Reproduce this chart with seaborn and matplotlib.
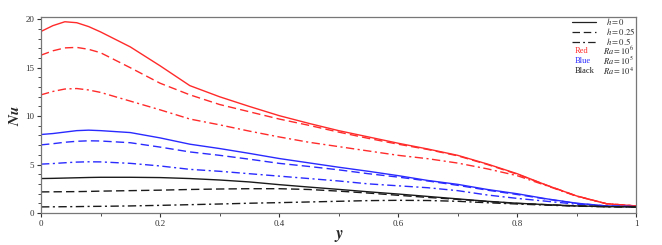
import numpy as np
import pandas as pd
import matplotlib
matplotlib.use("Agg")
import matplotlib.pyplot as plt
from matplotlib.lines import Line2D
from matplotlib.ticker import MultipleLocator
import seaborn as sns

# ---- data ----
y_pos = [0, 0.02, 0.04, 0.06, 0.08, 0.1, 0.15, 0.2, 0.25, 0.3, 0.35, 0.4,
         0.45, 0.5, 0.55, 0.6, 0.65, 0.7, 0.75, 0.8, 0.85, 0.9, 0.95, 1.0]

nu_ra6_h0 = [18.75, 19.35, 19.75, 19.65, 19.25, 18.7, 17.15, 15.2, 13.15, 12.0,
             11.0, 10.05, 9.25, 8.5, 7.85, 7.2, 6.6, 5.95, 5.05, 4.05, 2.85,
             1.75, 0.95, 0.72]
nu_ra6_h025 = [16.3, 16.75, 17.05, 17.1, 16.9, 16.55, 15.0, 13.4, 12.2, 11.2,
               10.45, 9.7, 9.05, 8.35, 7.7, 7.1, 6.55, 5.9, 5.0, 4.0, 2.85,
               1.75, 0.95, 0.72]
nu_ra6_h05 = [12.2, 12.55, 12.8, 12.85, 12.7, 12.45, 11.55, 10.65, 9.7, 9.1,
              8.45, 7.85, 7.3, 6.85, 6.4, 5.95, 5.6, 5.15, 4.55, 3.85, 2.8,
              1.72, 0.95, 0.72]
nu_ra5_h0 = [8.1, 8.2, 8.35, 8.5, 8.55, 8.5, 8.3, 7.75, 7.1, 6.65, 6.15, 5.62,
             5.17, 4.72, 4.3, 3.85, 3.35, 2.95, 2.42, 1.98, 1.45, 1.0, 0.72,
             0.65]
nu_ra5_h025 = [7.03, 7.15, 7.3, 7.4, 7.45, 7.43, 7.25, 6.8, 6.3, 5.95, 5.55,
               5.12, 4.8, 4.45, 4.05, 3.7, 3.3, 2.85, 2.35, 1.9, 1.42, 0.98,
               0.72, 0.65]
nu_ra5_h05 = [5.04, 5.1, 5.18, 5.25, 5.28, 5.27, 5.12, 4.85, 4.5, 4.3, 4.05,
              3.8, 3.55, 3.3, 3.0, 2.8, 2.6, 2.3, 1.85, 1.5, 1.2, 0.9, 0.7,
              0.62]
nu_ra4_h0 = [3.55, 3.57, 3.6, 3.63, 3.66, 3.68, 3.68, 3.65, 3.55, 3.4, 3.2,
             2.92, 2.67, 2.43, 2.18, 1.95, 1.7, 1.45, 1.2, 1.0, 0.85, 0.72,
             0.65, 0.62]
nu_ra4_h025 = [2.17, 2.18, 2.19, 2.2, 2.22, 2.25, 2.3, 2.35, 2.42, 2.47, 2.5,
               2.5, 2.42, 2.25, 2.05, 1.82, 1.6, 1.4, 1.18, 0.98, 0.85, 0.72,
               0.65, 0.62]
nu_ra4_h05 = [0.62, 0.63, 0.64, 0.65, 0.67, 0.68, 0.72, 0.78, 0.85, 0.92, 1.0,
              1.06, 1.13, 1.2, 1.27, 1.3, 1.28, 1.2, 1.05, 0.92, 0.8, 0.7,
              0.63, 0.6]

ra_labels = ["1e6", "1e5", "1e4"]
h_labels = ["0", "0.25", "0.5"]
series = {
    ("1e6", "0"): nu_ra6_h0, ("1e6", "0.25"): nu_ra6_h025, ("1e6", "0.5"): nu_ra6_h05,
    ("1e5", "0"): nu_ra5_h0, ("1e5", "0.25"): nu_ra5_h025, ("1e5", "0.5"): nu_ra5_h05,
    ("1e4", "0"): nu_ra4_h0, ("1e4", "0.25"): nu_ra4_h025, ("1e4", "0.5"): nu_ra4_h05,
}

rows = []
for (ra, h), vals in series.items():
    for yy, v in zip(y_pos, vals):
        rows.append({"y": yy, "Nu": v, "Ra": ra, "h": h})
df = pd.DataFrame(rows)

# ---- styling ----
sns.set_style("white")
plt.rcParams["font.family"] = ["Liberation Serif", "DejaVu Serif"]
plt.rcParams["mathtext.fontset"] = "stix"

palette = {"1e6": "#ff2a2a", "1e5": "#2a2aff", "1e4": "#1a1a1a"}
dashes = {"0": "", "0.25": (6, 3), "0.5": (6, 2.5, 1.5, 2.5)}

fig = plt.figure(figsize=(6.62, 2.45), dpi=100)
ax = fig.add_axes([0.062, 0.131, 0.899, 0.798])

sns.lineplot(data=df, x="y", y="Nu", hue="Ra", style="h", hue_order=ra_labels,
             style_order=h_labels, palette=palette, dashes=dashes,
             linewidth=1.0, ax=ax, legend=False, sort=False, estimator=None)

ax.set_xlim(0, 1)
ax.set_ylim(0, 20.2)
ax.xaxis.set_major_locator(MultipleLocator(0.2))
ax.xaxis.set_minor_locator(MultipleLocator(0.1))
ax.yaxis.set_major_locator(MultipleLocator(5))
ax.yaxis.set_minor_locator(MultipleLocator(1))
ax.set_xticks([0, 0.2, 0.4, 0.6, 0.8, 1.0])
ax.set_xticklabels(["0", "0.2", "0.4", "0.6", "0.8", "1"])
ax.tick_params(axis="both", which="major", direction="out", length=3,
               width=0.8, labelsize=6.5, colors="#333333", pad=2,
               bottom=True, left=True, top=False, right=False)
ax.tick_params(axis="both", which="minor", direction="out", length=2,
               width=0.6, colors="#333333", bottom=True, left=True,
               top=False, right=False)
for s in ax.spines.values():
    s.set_color("#777777")
    s.set_linewidth(0.9)

ax.set_xlabel("$\\boldsymbol{y}$", fontsize=12, labelpad=0)
ax.set_ylabel("$\\boldsymbol{Nu}$", fontsize=11, labelpad=2)

# legend: line styles
handles = []
for h in h_labels:
    if dashes[h] == "":
        handles.append(Line2D([], [], color="#222222", lw=0.9, linestyle="-"))
    else:
        handles.append(Line2D([], [], color="#222222", lw=0.9, dashes=dashes[h]))
leg = ax.legend(handles, ["$h = 0$", "$h = 0.25$", "$h = 0.5$"], loc="upper right",
                bbox_to_anchor=(1.0, 1.012), frameon=False, fontsize=6.2,
                handlelength=2.8, handletextpad=1.2, labelspacing=-0.12,
                borderaxespad=0.0, borderpad=0.1, handleheight=0.4)

color_rows = [("Red", "#ff2a2a", "$Ra = 10^6$"),
              ("Blue", "#2a2aff", "$Ra = 10^5$"),
              ("Black", "#1a1a1a", "$Ra = 10^4$")]
for i, (word, col, lab) in enumerate(color_rows):
    yy = 0.828 - i * 0.051
    ax.text(0.896, yy, word, color=col, fontsize=6.0, transform=ax.transAxes,
            va="center", ha="left")
    ax.text(0.945, yy, lab, color="#222222", fontsize=6.0,
            transform=ax.transAxes, va="center", ha="left")

fig.savefig("out.png", dpi=100)
